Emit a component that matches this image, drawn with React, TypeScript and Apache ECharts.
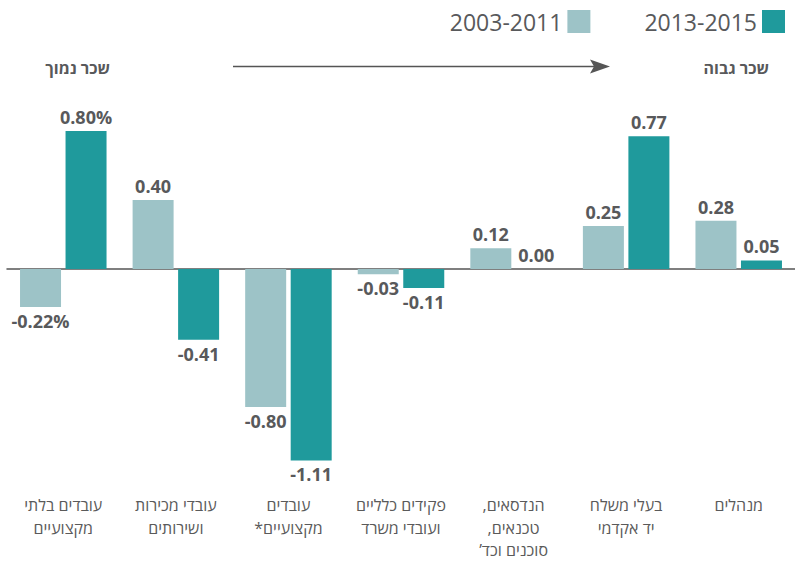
import React, { useEffect, useRef } from "react";
import * as echarts from "echarts";

const categories = [
  "עובדים בלתי\nמקצועיים",
  "עובדי מכירות\nושירותים",
  "עובדים\n*מקצועיים",
  "פקידים כלליים\nועובדי משרד",
  ",הנדסאים\n,טכנאים\n’סוכנים וכד",
  "בעלי משלח\nיד אקדמי",
  "מנהלים",
];
const seriesNames = ["2003-2011", "2013-2015"];
const values2003 = [-0.22, 0.4, -0.8, -0.03, 0.12, 0.25, 0.28];
const values2013 = [0.8, -0.41, -1.11, -0.11, 0.0, 0.77, 0.05];
const lowWageLabel = "שכר נמוך";
const highWageLabel = "שכר גבוה";

const FONT = "'Open Sans', 'DejaVu Sans', sans-serif";
const LIGHT = "#9dc3c7";
const TEAL = "#1f9a9c";
const DARK = "#58595b";

function toItems(vals: number[]) {
  return vals.map((v) => ({
    value: v,
    label: { position: v < 0 ? "bottom" : "top" },
  }));
}

export default function App() {
  const ref = useRef<HTMLDivElement>(null);
  useEffect(() => {
    if (!ref.current) return;
    const chart = echarts.init(ref.current, null, { renderer: "svg" });
    const labelCfg = {
      show: true,
      distance: 5,
      fontFamily: FONT,
      fontSize: 18,
      fontWeight: "bold",
      color: DARK,
      formatter: (p: any) =>
        p.dataIndex === 0
          ? Number(p.value).toFixed(2) + "%"
          : Number(p.value).toFixed(2),
    };
    chart.setOption({
      animation: false,
      textStyle: { fontFamily: FONT },
      legend: {
        data: seriesNames,
        top: 5,
        right: 5,
        itemWidth: 23,
        itemHeight: 23,
        itemGap: 54,
        align: "right",
        icon: "rect",
        textStyle: { fontFamily: FONT, fontSize: 23, color: DARK },
      },
      grid: { left: 7, width: 790, top: 113.75, height: 362.25 },
      xAxis: [
        {
          type: "category",
          data: categories,
          axisLine: { onZero: true, lineStyle: { color: "#555", width: 1.5 } },
          axisTick: { show: false },
          axisLabel: { show: false },
          splitLine: { show: false },
        },
        {
          type: "category",
          data: categories,
          position: "bottom",
          axisLine: { show: false, onZero: false },
          axisTick: { show: false },
          axisLabel: {
            show: true,
            interval: 0,
            margin: 18,
            fontFamily: FONT,
            fontSize: 16,
            lineHeight: 22.5,
            color: "#5a5a5a",
            verticalAlign: "top",
          },
          splitLine: { show: false },
        },
      ],
      yAxis: {
        type: "value",
        min: -1.2,
        max: 0.9,
        show: false,
        splitLine: { show: false },
      },
      series: [
        {
          name: seriesNames[0],
          type: "bar",
          xAxisIndex: 0,
          data: toItems(values2003),
          barWidth: 41,
          barGap: "11%",
          itemStyle: { color: LIGHT },
          label: labelCfg,
        },
        {
          name: seriesNames[1],
          type: "bar",
          xAxisIndex: 0,
          data: toItems(values2013),
          barWidth: 41,
          barGap: "11%",
          itemStyle: { color: TEAL },
          label: labelCfg,
        },
      ],
      graphic: [
        {
          type: "text",
          x: 110,
          y: 68,
          style: {
            text: lowWageLabel,
            align: "right",
            verticalAlign: "middle",
            fontFamily: FONT,
            fontSize: 16,
            fontWeight: "bold",
            fill: DARK,
          },
        },
        {
          type: "text",
          x: 769,
          y: 68,
          style: {
            text: highWageLabel,
            align: "right",
            verticalAlign: "middle",
            fontFamily: FONT,
            fontSize: 16,
            fontWeight: "bold",
            fill: DARK,
          },
        },
        {
          type: "line",
          shape: { x1: 233, y1: 66.5, x2: 598, y2: 66.5 },
          style: { stroke: "#555", lineWidth: 1.5 },
        },
        {
          type: "polygon",
          shape: {
            points: [
              [590, 59.5],
              [610, 66.5],
              [590, 73.5],
              [594, 66.5],
            ],
          },
          style: { fill: "#555" },
        },
      ],
    });
    return () => chart.dispose();
  }, []);
  return (
    <div
      ref={ref}
      style={{ position: "absolute", left: 0, top: 0, width: 795, height: 564 }}
    />
  );
}
